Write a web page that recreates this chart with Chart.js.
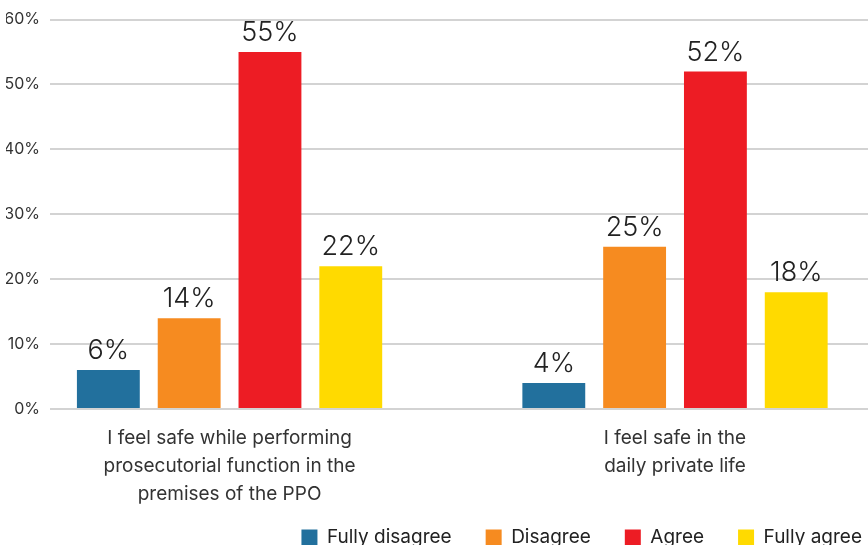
<!DOCTYPE html>
<html>
<head>
<meta charset="utf-8">
<script src="https://cdn.jsdelivr.net/npm/chart.js@4"></script>
<style>
  html, body { margin: 0; padding: 0; background: #fff; overflow: hidden; }
  .wrap { width: 896px; height: 557px; }
</style>
</head>
<body>
<div class="wrap"><canvas id="chart"></canvas></div>
<script>
// Survey answers, percent of respondents

var categories = [
    ['I feel safe while performing', 'prosecutorial function in the', 'premises of the PPO'],
    ['I feel safe in the', 'daily private life']
];
var answers = ['Fully disagree', 'Disagree', 'Agree', 'Fully agree'];
var fullyDisagree = [6, 4];
var disagree = [14, 25];
var agree = [55, 52];
var fullyAgree = [22, 18];
var yTicks = [0, 10, 20, 30, 40, 50, 60];

var colors = ['#22709d', '#f68b20', '#ed1c24', '#ffda00'];

function points(values) {
    return values.map(function (v, i) { return { x: i, y: v }; });
}

var series = [fullyDisagree, disagree, agree, fullyAgree];

var FONT = 'Inter, "Noto Sans", sans-serif';

// Percent above every bar
var valueLabels = {
    id: 'valueLabels',
    afterDatasetsDraw: function (chart) {
        var ctx = chart.ctx;
        ctx.save();
        ctx.font = '300 27px ' + FONT;
        ctx.fillStyle = '#222';
        ctx.textAlign = 'center';
        ctx.textBaseline = 'alphabetic';
        chart.data.datasets.forEach(function (ds, i) {
            chart.getDatasetMeta(i).data.forEach(function (bar, j) {
                ctx.fillText(ds.data[j].y + '%', bar.x, bar.y - 11);
            });
        });
        ctx.restore();
    }
};

var config = {
    type: 'bar',
    data: {
        datasets: series.map(function (values, i) {
            return {
                label: answers[i],
                data: points(values),
                backgroundColor: colors[i],
                borderWidth: 0,
                categoryPercentage: 0.7256,
                barPercentage: 0.778
            };
        })
    },
    options: {
        responsive: true,
        maintainAspectRatio: false,
        animation: false,
        layout: {
            padding: { left: 6, top: 19, right: 0, bottom: 0 }
        },
        plugins: {
            legend: {
                position: 'bottom',
                align: 'end',
                // empty title with negative padding pulls the items up,
                // labels.padding still spaces them apart horizontally
                title: {
                    display: true,
                    text: '',
                    padding: { top: -14, bottom: 0 },
                    font: { size: 1, lineHeight: 1 }
                },
                labels: {
                    boxWidth: 16,
                    boxHeight: 16,
                    padding: 34,
                    color: '#222',
                    font: { family: FONT, size: 19 }
                }
            },
            tooltip: { enabled: false }
        },
        scales: {
            x: {
                type: 'linear',
                min: -0.4031,
                max: 1.4961,
                offset: false,
                grid: { display: false, drawTicks: false },
                border: { display: false },
                afterBuildTicks: function (scale) {
                    scale.ticks = categories.map(function (c, i) { return { value: i }; });
                },
                afterFit: function (scale) {
                    scale.height = 98;
                },
                ticks: {
                    autoSkip: false,
                    maxRotation: 0,
                    padding: 15,
                    color: '#333',
                    font: { family: FONT, size: 19, lineHeight: 1.47 },
                    callback: function (value) { return categories[value]; }
                }
            },
            y: {
                min: 0,
                max: 60,
                afterBuildTicks: function (scale) {
                    scale.ticks = yTicks.map(function (v) { return { value: v }; });
                },
                afterFit: function (scale) {
                    scale.width = 44;
                },
                grid: { color: '#d3d3d3', lineWidth: 2, drawTicks: false },
                border: { display: false },
                ticks: {
                    padding: 10,
                    color: '#333',
                    font: { family: FONT, size: 16 },
                    callback: function (value) { return value + '%'; }
                }
            }
        }
    },
    plugins: [valueLabels]
};

window.onload = function () {
    var ctx = document.getElementById('chart').getContext('2d');
    window.myBar = new Chart(ctx, config);
};
</script>
</body>
</html>
